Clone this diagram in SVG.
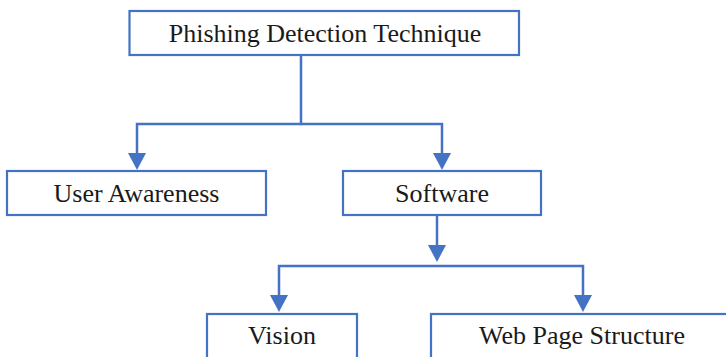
<svg xmlns="http://www.w3.org/2000/svg" width="726" height="357" viewBox="0 0 726 357">
<defs>
<style>
.box{fill:#fff;stroke:#4472C4;stroke-width:2.2}
.lbl{font-family:"Liberation Serif","Times New Roman",serif;font-size:26px;fill:#1a1a1a;text-anchor:middle}
.ln{fill:none;stroke:#4472C4;stroke-width:2.5}
.ah{fill:#4472C4}
</style>
</defs>
<rect width="726" height="357" fill="#fff"/>
<g id="connectors">
<polyline class="ln" points="301,55 301,124 137,124 137,156"/>
<polyline class="ln" points="301,124 442,124 442,156"/>
<polygon class="ah" points="128,153 146,153 137,170"/>
<polygon class="ah" points="433,153 451,153 442,170"/>
<polyline class="ln" points="437,215 437,248"/>
<polygon class="ah" points="428,245 446,245 437,262"/>
<polyline class="ln" points="279,298 279,266 583,266 583,298"/>
<polygon class="ah" points="270,295 288,295 279,312"/>
<polygon class="ah" points="574,295 592,295 583,312"/>
</g>
<g id="phishing">
<rect class="box" x="129.5" y="11" width="389.5" height="44"/>
<text class="lbl" x="325" y="42">Phishing Detection Technique</text>
</g>
<g id="user-awareness">
<rect class="box" x="7" y="171" width="259" height="44"/>
<text class="lbl" x="136.5" y="202">User Awareness</text>
</g>
<g id="software">
<rect class="box" x="343" y="171" width="198" height="44"/>
<text class="lbl" x="442" y="202">Software</text>
</g>
<g id="vision">
<rect class="box" x="207" y="314" width="150" height="60"/>
<text class="lbl" x="282" y="344">Vision</text>
</g>
<g id="web-page-structure">
<rect class="box" x="431" y="314" width="310" height="60"/>
<text class="lbl" x="582" y="344">Web Page Structure</text>
</g>
</svg>
